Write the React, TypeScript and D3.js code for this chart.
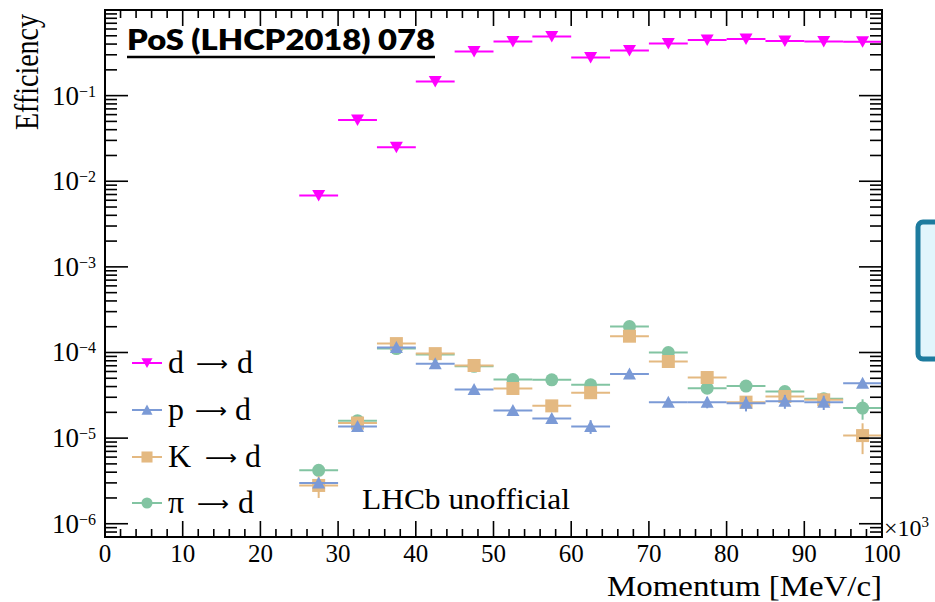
import React from "react";
import * as d3 from "d3";

// Bin centres in momentum (×10^3 MeV/c), each bin is 5 units wide
const binCentres = [27.5, 32.5, 37.5, 42.5, 47.5, 52.5, 57.5, 62.5, 67.5, 72.5, 77.5, 82.5, 87.5, 92.5, 97.5];
const binHalfWidth = 2.5;

// Efficiencies for each particle → d misidentification
const dToD = [0.0068, 0.052, 0.025, 0.146, 0.327, 0.43, 0.49, 0.278, 0.336, 0.405, 0.445, 0.46, 0.435, 0.43, 0.425];
const pToD = [3.0e-6, 1.37e-5, 1.14e-4, 7.4e-5, 3.7e-5, 2.1e-5, 1.7e-5, 1.37e-5, 5.6e-5, 2.63e-5, 2.63e-5, 2.55e-5, 2.7e-5, 2.63e-5, 4.38e-5];
const kToD = [2.8e-6, 1.5e-5, 1.27e-4, 9.7e-5, 7.05e-5, 3.8e-5, 2.38e-5, 3.39e-5, 1.55e-4, 7.85e-5, 5.1e-5, 2.63e-5, 3.06e-5, 2.8e-5, 1.07e-5];
const piToD = [4.2e-6, 1.6e-5, 1.11e-4, 9.5e-5, 6.9e-5, 4.84e-5, 4.8e-5, 4.19e-5, 2.01e-4, 1.0e-4, 3.83e-5, 4.05e-5, 3.5e-5, 2.88e-5, 2.24e-5];

// Statistical uncertainties
const dErr = [0, 0, 0, 0, 0, 0, 0, 0, 0, 0, 0, 0, 0, 0, 0];
const pErr = [0.3e-6, 1e-6, 5e-6, 3e-6, 2e-6, 2e-6, 2e-6, 2.5e-6, 4e-6, 3e-6, 4e-6, 5e-6, 5e-6, 5e-6, 4e-6];
const kErr = [0.8e-6, 1e-6, 6e-6, 4e-6, 3e-6, 2e-6, 2e-6, 2e-6, 8e-6, 5e-6, 4e-6, 4e-6, 3e-6, 3e-6, 4.2e-6];
const piErr = [0.4e-6, 1e-6, 5e-6, 4e-6, 3e-6, 2e-6, 2e-6, 2e-6, 8e-6, 4e-6, 3e-6, 3e-6, 3e-6, 3e-6, 6e-6];

const xTicks = [0, 10, 20, 30, 40, 50, 60, 70, 80, 90, 100];
const yDecades = [-6, -5, -4, -3, -2, -1];

type Marker = "down" | "up" | "square" | "circle";
interface Series {
  first: string;
  values: number[];
  errors: number[];
  color: string;
  marker: Marker;
}

const series: Series[] = [
  { first: "d", values: dToD, errors: dErr, color: "#ff00ff", marker: "down" },
  { first: "p", values: pToD, errors: pErr, color: "#7b9ad6", marker: "up" },
  { first: "K", values: kToD, errors: kErr, color: "#e4b981", marker: "square" },
  { first: "π", values: piToD, errors: piErr, color: "#82c4a2", marker: "circle" },
];
// draw order: pions underneath, deuterons on top
const drawOrder = [3, 2, 1, 0];

const W = 935;
const H = 602;
const left = 105;
const right = 882;
const top = 10;
const bottom = 537;

const x = d3.scaleLinear().domain([0, 100]).range([left, right]);
const y = d3.scaleLog().domain([7e-7, 1]).range([bottom, top]);

const serif = "'Liberation Serif', 'Times New Roman', serif";

// legend row layout: marker y, arrow start x, target start x
const legendRows = [
  { y: 363, arrowX: 196, targetX: 237 },
  { y: 410, arrowX: 195, targetX: 235 },
  { y: 457, arrowX: 205, targetX: 245 },
  { y: 503, arrowX: 197, targetX: 238 },
];

function MarkerShape({ kind, cx, cy, color, s = 1 }: { kind: Marker; cx: number; cy: number; color: string; s?: number }) {
  if (kind === "down") {
    return <path d={`M${cx - 6.5 * s},${cy - 5.5 * s}L${cx + 6.5 * s},${cy - 5.5 * s}L${cx},${cy + 6 * s}Z`} fill={color} />;
  }
  if (kind === "up") {
    return <path d={`M${cx - 6.5 * s},${cy + 5.5 * s}L${cx + 6.5 * s},${cy + 5.5 * s}L${cx},${cy - 6.5 * s}Z`} fill={color} />;
  }
  if (kind === "square") {
    return <rect x={cx - 6.5 * s} y={cy - 6.5 * s} width={13 * s} height={13 * s} fill={color} />;
  }
  return <circle cx={cx} cy={cy} r={6.5 * s} fill={color} />;
}

function SeriesMarks({ s }: { s: Series }) {
  return (
    <g>
      {binCentres.map((c, i) => {
        const v = s.values[i];
        const e = s.errors[i];
        const cx = x(c);
        const cy = y(v);
        return (
          <g key={i}>
            <line x1={x(c - binHalfWidth)} x2={x(c + binHalfWidth)} y1={cy} y2={cy} stroke={s.color} strokeWidth={2} />
            {e > 0 && (
              <line x1={cx} x2={cx} y1={y(v + e)} y2={y(Math.max(v - e, 7.1e-7))} stroke={s.color} strokeWidth={2} />
            )}
            <MarkerShape kind={s.marker} cx={cx} cy={cy} color={s.color} />
          </g>
        );
      })}
    </g>
  );
}

export default function App() {
  const xMinor = d3.range(0, 100.01, 2).filter((v) => v % 10 !== 0);
  const yMinor: number[] = [];
  for (let dec = -7; dec < 0; dec++) {
    for (let m = 2; m <= 9; m++) {
      const v = m * Math.pow(10, dec);
      if (v >= 7e-7 && v <= 1) yMinor.push(v);
    }
  }

  return (
    <svg width={W} height={H} style={{ position: "absolute", left: 0, top: 0, background: "#fff" }}>
      {/* side panel */}
      <rect x={918} y={222} width={40} height={137} rx={5} fill="#e1f5fc" stroke="#1d7b9e" strokeWidth={5} />

      {/* data */}
      {drawOrder.map((k) => (
        <SeriesMarks key={k} s={series[k]} />
      ))}

      {/* frame */}
      <rect x={left} y={top} width={right - left} height={bottom - top} fill="none" stroke="#000" strokeWidth={2} />

      {/* ticks on all four sides */}
      <g stroke="#000" strokeWidth={1.6}>
        {xTicks.map((t) => (
          <g key={t}>
            <line x1={x(t)} x2={x(t)} y1={bottom} y2={bottom - 16} />
            <line x1={x(t)} x2={x(t)} y1={top} y2={top + 16} />
          </g>
        ))}
        {xMinor.map((t) => (
          <g key={t}>
            <line x1={x(t)} x2={x(t)} y1={bottom} y2={bottom - 8} />
            <line x1={x(t)} x2={x(t)} y1={top} y2={top + 8} />
          </g>
        ))}
        {yDecades.map((d) => (
          <g key={d}>
            <line x1={left} x2={left + 23} y1={y(Math.pow(10, d))} y2={y(Math.pow(10, d))} />
            <line x1={right} x2={right - 23} y1={y(Math.pow(10, d))} y2={y(Math.pow(10, d))} />
          </g>
        ))}
        {yMinor.map((v, i) => (
          <g key={i}>
            <line x1={left} x2={left + 12} y1={y(v)} y2={y(v)} />
            <line x1={right} x2={right - 12} y1={y(v)} y2={y(v)} />
          </g>
        ))}
      </g>

      {/* x tick labels */}
      <g fontFamily={serif} fontSize={25} textAnchor="middle" fill="#000">
        {xTicks.map((t) => (
          <text key={t} x={x(t)} y={562}>
            {t}
          </text>
        ))}
      </g>
      <text x={884} y={536} fontFamily={serif} fontSize={24} fill="#000">
        ×10
        <tspan fontSize={15} dy={-9}>3</tspan>
      </text>

      {/* y tick labels */}
      <g fontFamily={serif} fill="#000" textAnchor="end">
        {yDecades.map((d) => (
          <text key={d} x={96} y={y(Math.pow(10, d)) + 9} fontSize={27}>
            10
            <tspan fontSize={16} dy={-8}>{`−${Math.abs(d)}`}</tspan>
          </text>
        ))}
      </g>

      {/* axis titles */}
      <text
        transform={`translate(38,14) rotate(-90)`}
        textAnchor="end"
        fontFamily={serif}
        fontSize={33}
        textLength={116}
        lengthAdjust="spacingAndGlyphs"
        fill="#000"
      >
        Efficiency
      </text>
      <text
        x={607}
        y={596}
        fontFamily={serif}
        fontSize={30}
        textLength={275}
        lengthAdjust="spacingAndGlyphs"
        fill="#000"
      >
        Momentum [MeV/c]
      </text>

      {/* legend */}
      {series.map((s, i) => {
        const row = legendRows[i];
        const base = row.y + 10;
        return (
          <g key={i}>
            <line x1={132} x2={162} y1={row.y} y2={row.y} stroke={s.color} strokeWidth={2} />
            <MarkerShape kind={s.marker} cx={147} cy={row.y} color={s.color} s={0.85} />
            <g fontFamily={serif} fontSize={32} fill="#000">
              <text x={168} y={base}>{s.first}</text>
              <text
                x={row.arrowX}
                y={base - 2}
                fontFamily="'DejaVu Sans', sans-serif"
                fontSize={21}
                textLength={32}
                lengthAdjust="spacingAndGlyphs"
              >
                ⟶
              </text>
              <text x={row.targetX} y={base}>d</text>
            </g>
          </g>
        );
      })}

      <text
        x={362}
        y={509}
        fontFamily={serif}
        fontSize={29}
        textLength={208}
        lengthAdjust="spacingAndGlyphs"
        fill="#000"
      >
        LHCb unofficial
      </text>

      {/* proceedings label */}
      <text
        x={127}
        y={50}
        fontFamily="Lato, 'Open Sans', sans-serif"
        fontWeight={800}
        fontSize={28}
        textLength={308}
        lengthAdjust="spacingAndGlyphs"
        fill="#000"
      >
        PoS (LHCP2018) 078
      </text>
      <line x1={127} x2={435} y1={57} y2={57} stroke="#000" strokeWidth={2.5} />
    </svg>
  );
}
